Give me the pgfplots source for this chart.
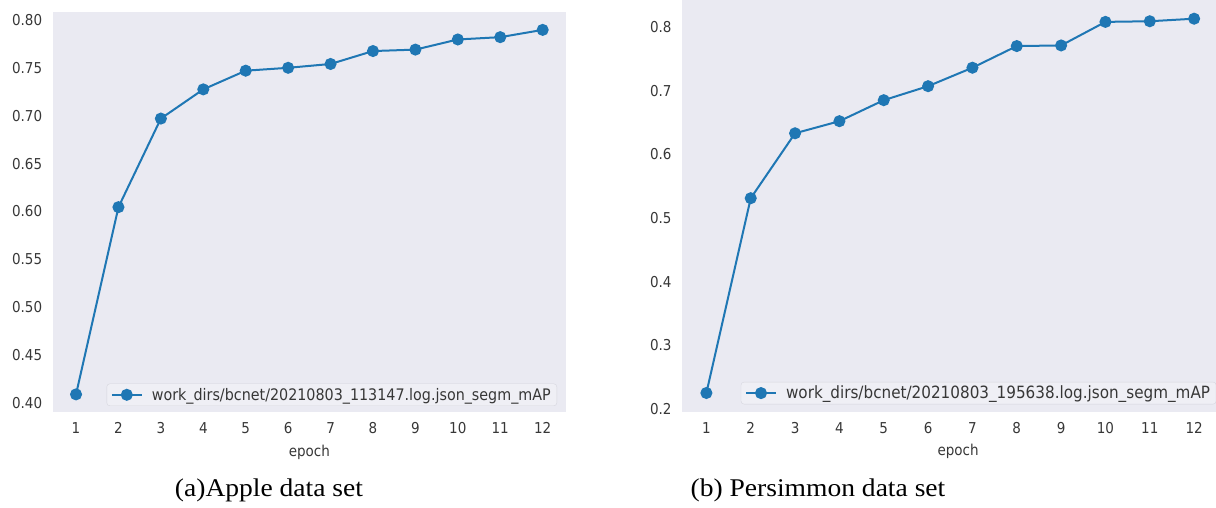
\documentclass[border=0pt]{standalone}
\usepackage{fontspec}
\usepackage{pgfplots}
\pgfplotsset{compat=1.18}
\newfontfamily\dv[FakeStretch=0.9]{DejaVu Sans}
\newfontfamily\tnr[FakeStretch=1.08]{Liberation Serif}
\definecolor{axbg}{RGB}{234,234,242}
\definecolor{lgbg}{RGB}{239,239,245}
\definecolor{lgedge}{RGB}{214,214,222}
\definecolor{cblue}{RGB}{31,119,180}
\definecolor{txt}{RGB}{55,55,55}
\pgfplotsset{
  sbstyle/.style={
    scale only axis,
    anchor=south west,
    axis background/.style={fill=axbg},
    axis line style={draw=none},
    major tick length=0pt,
    tick style={draw=none},
    xtick={1,...,12},
    ticklabel style={font=\dv\fontsize{15}{15}\selectfont, text=txt},
    /pgf/number format/assume math mode=true,
    xticklabel style={yshift=-7pt},
    yticklabel style={xshift=-7pt},
    xlabel={epoch},
    xlabel style={font=\dv\fontsize{15}{15}\selectfont, text=txt, at={(axis description cs:0.5,0)}, anchor=center, yshift=-40pt},
    legend cell align=left,
    legend image code/.code={%
      \path[draw=none,fill=none] (0pt,-11pt) rectangle (38pt,11pt);
      \draw[mark repeat=2,mark phase=2,#1] plot coordinates {(0pt,0pt)(15pt,0pt)(30pt,0pt)};},
  },
  sbline/.style={color=cblue, line width=2pt, mark=*, mark size=5pt, mark options={solid, fill=cblue, draw=cblue}},
}
\begin{document}
\begin{tikzpicture}
\useasboundingbox (0,0) rectangle (1216pt,508pt);
% (a) Apple
\begin{axis}[sbstyle,
  at={(52.7pt,96pt)}, width=513.3pt, height=400.3pt,
  xmin=0.45, xmax=12.55, ymin=0.3906, ymax=0.8086,
  ytick={0.40,0.45,0.50,0.55,0.60,0.65,0.70,0.75,0.80},
  yticklabel style={/pgf/number format/.cd, fixed, fixed zerofill, precision=2},
  legend style={at={(1,0)}, anchor=south east, xshift=-9pt, yshift=6pt,
    fill=lgbg, draw=lgedge, rounded corners=3pt,
    font=\dv\fontsize{15.9}{16}\selectfont, text=txt, inner xsep=4pt, inner ysep=0pt},
]
\addplot[sbline] coordinates {(1,0.409)(2,0.6045)(3,0.697)(4,0.7275)(5,0.747)(6,0.750)(7,0.754)(8,0.7675)(9,0.769)(10,0.7796)(11,0.782)(12,0.7896)};
\addlegendentry{work\_dirs/bcnet/20210803\_113147.log.json\_segm\_mAP}
\end{axis}
% (b) Persimmon
\begin{axis}[sbstyle,
  at={(682pt,96.3pt)}, width=534.3pt, height=411.7pt,
  xmin=0.45, xmax=12.5, ymin=0.1956, ymax=0.8424,
  ytick={0.2,0.3,0.4,0.5,0.6,0.7,0.8},
  yticklabel style={/pgf/number format/.cd, fixed, fixed zerofill, precision=1},
  xlabel style={xshift=9pt},
  legend style={at={(1,0)}, anchor=south east, xshift=0pt, yshift=7.4pt,
    fill=lgbg, draw=lgedge, rounded corners=3pt,
    font=\dv\fontsize{16.9}{17}\selectfont, text=txt, inner xsep=4pt, inner ysep=0pt},
]
\addplot[sbline] coordinates {(1,0.225)(2,0.531)(3,0.633)(4,0.652)(5,0.685)(6,0.707)(7,0.736)(8,0.770)(9,0.771)(10,0.808)(11,0.809)(12,0.813)};
\addlegendentry{work\_dirs/bcnet/20210803\_195638.log.json\_segm\_mAP}
\end{axis}
\node[anchor=base, font=\tnr\fontsize{25.5}{26}\selectfont] at (269pt,11pt) {(a)Apple data set};
\node[anchor=base, font=\tnr\fontsize{25.5}{26}\selectfont] at (818pt,11pt) {(b) Persimmon data set};
\end{tikzpicture}
\end{document}
